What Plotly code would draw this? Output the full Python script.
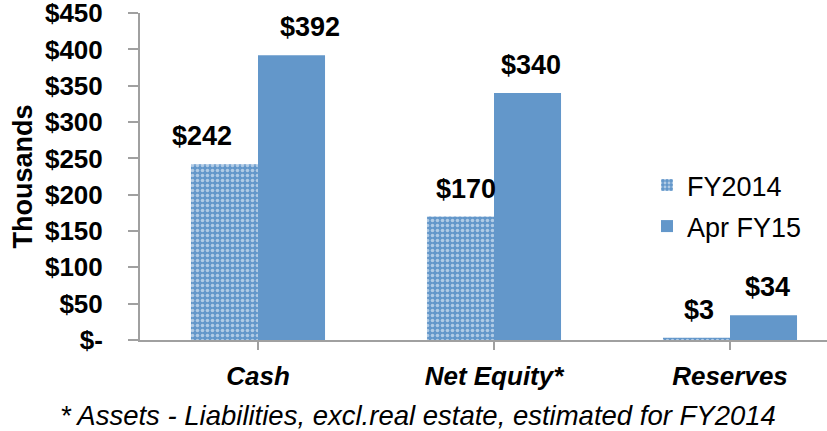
import plotly.graph_objects as go

categories = ["Cash", "Net Equity*", "Reserves"]
fy2014 = [242, 170, 3]
apr_fy15 = [392, 340, 34]
y_tickvals = [0, 50, 100, 150, 200, 250, 300, 350, 400, 450]
y_ticktext = ["$-", "$50", "$100", "$150", "$200", "$250", "$300", "$350", "$400", "$450"]
# small manual nudges of the data labels (pixels), as in the original
label_xshift_fy14 = [-22, 6, 3]
label_xshift_fy15 = [18, 3, 4]

BLUE = "#6397CA"
AX = "#A0A0A0"
FONT = "Liberation Sans, Arial"
xs = list(range(len(categories)))

fig = go.Figure()
fig.add_trace(go.Bar(
    name="FY2014", x=xs, y=fy2014, legendgroup="a",
    marker=dict(color=BLUE, line=dict(width=0),
                pattern=dict(shape=".", fgcolor="white", bgcolor=BLUE, size=5, solidity=0.4)),
))
fig.add_trace(go.Bar(
    name="Apr FY15", x=xs, y=apr_fy15, legendgroup="b",
    marker=dict(color=BLUE, line=dict(width=0)),
))

off = 0.142
for i in xs:
    for val, dx, xsh in ((fy2014[i], -off, label_xshift_fy14[i]), (apr_fy15[i], off, label_xshift_fy15[i])):
        fig.add_annotation(x=i + dx, y=val, text=f"<b>${val}</b>", showarrow=False,
                           yanchor="bottom", yshift=11, xshift=xsh,
                           font=dict(family=FONT, size=27, color="black"))

fig.add_annotation(xref="paper", yref="paper", x=0.405, y=-0.232, xanchor="center", yanchor="middle",
                   text="<i>* Assets - Liabilities, excl.real estate, estimated for FY2014</i>",
                   showarrow=False,
                   font=dict(family=FONT, size=27.5, color="black"))

fig.update_layout(
    width=827, height=431,
    margin=dict(l=140, r=0, t=13, b=91, autoexpand=False),
    paper_bgcolor="white", plot_bgcolor="white",
    barmode="group", bargap=0.432, bargroupgap=0,
    font=dict(family=FONT, size=26, color="black"),
    legend=dict(x=0.738, y=0.41, xanchor="left", yanchor="middle",
                font=dict(size=27), bgcolor="rgba(0,0,0,0)", tracegroupgap=3),
    xaxis=dict(
        tickmode="array", tickvals=xs, ticktext=categories,
        range=[-0.5, 2.411], showline=True, linecolor=AX, linewidth=2,
        ticks="outside", tickson="boundaries", ticklen=8, tickcolor=AX, tickwidth=2,
        tickfont=dict(size=26, weight="bold", style="italic"), ticklabelstandoff=4,
        showgrid=False, zeroline=False, automargin=False,
    ),
    yaxis=dict(
        range=[0, 450.2], tickmode="array", tickvals=y_tickvals, ticktext=y_ticktext,
        showline=True, linecolor=AX, linewidth=2,
        ticks="outside", ticklen=10, tickcolor=AX, tickwidth=2,
        tickfont=dict(size=26, weight="bold"), ticklabelstandoff=20,
        ticklabeloverflow="allow", automargin=False,
        showgrid=False, zeroline=False,
        title=dict(text="Thousands", font=dict(size=27, weight="bold"), standoff=5),
    ),
)

fig.write_html("out.html", config={"displayModeBar": False},
               post_script="document.body.style.margin='0';document.body.style.overflow='hidden';")
